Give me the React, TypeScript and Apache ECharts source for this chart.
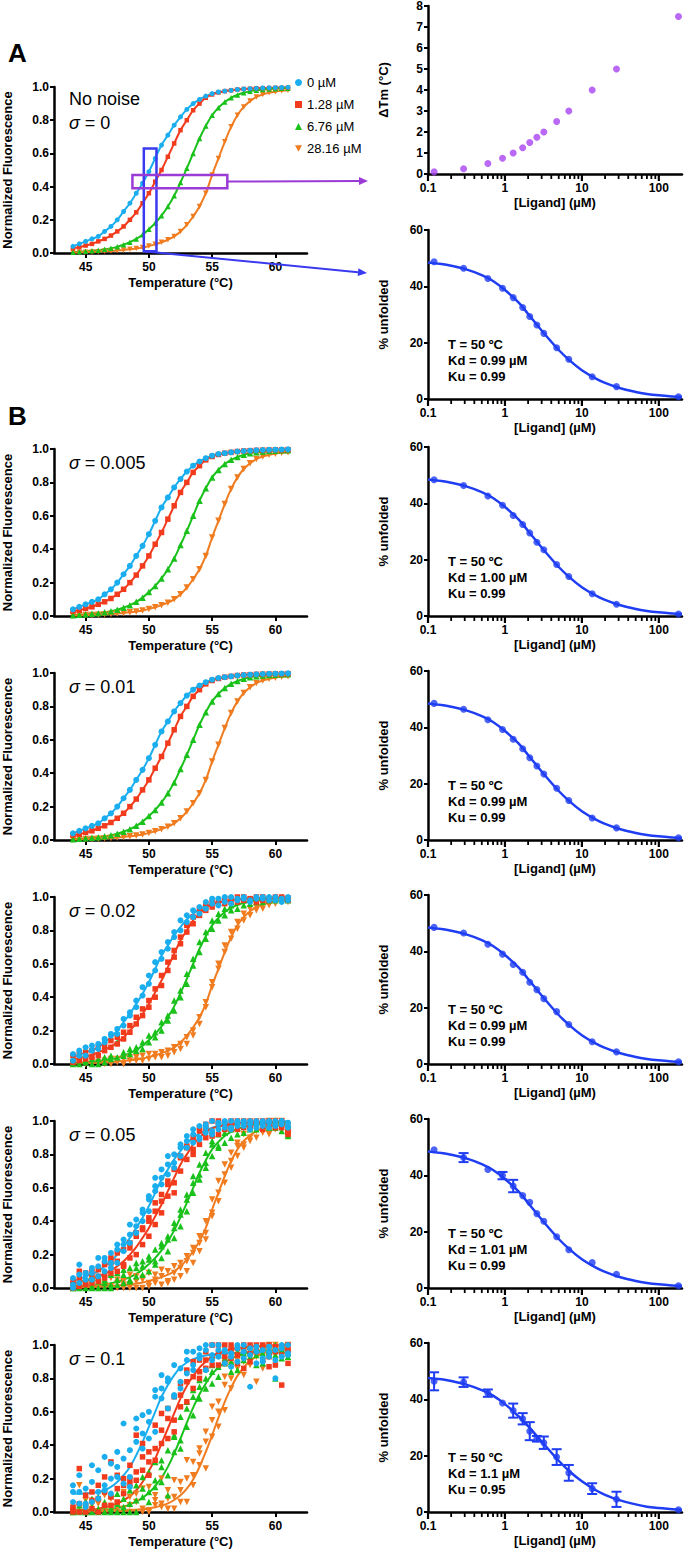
import React, { useEffect, useRef } from 'react';
import * as echarts from 'echarts';

const FONT = '"Liberation Sans", Arial, Helvetica, sans-serif';

// ================= DATA =================
const temperatures = [44, 44.5, 45, 45.5, 46, 46.5, 47, 47.5, 48, 48.5, 49, 49.5, 50, 50.5, 51, 51.5, 52, 52.5, 53, 53.5, 54, 54.5, 55, 55.5, 56, 56.5, 57, 57.5, 58, 58.5, 59, 59.5, 60, 60.5, 61];
const tempTicks = [45, 50, 55, 60];
const ligandNames = ['0 µM', '1.28 µM', '6.76 µM', '28.16 µM'];

// fitted melting curves (noise-free model)
const fit0 = [0.04, 0.055, 0.07, 0.085, 0.10, 0.13, 0.16, 0.20, 0.25, 0.30, 0.36, 0.42, 0.49, 0.57, 0.65, 0.71, 0.77, 0.82, 0.865, 0.90, 0.925, 0.945, 0.96, 0.97, 0.975, 0.98, 0.985, 0.988, 0.99, 0.992, 0.994, 0.995, 0.996, 0.997, 0.998];
const fit128 = [0.03, 0.035, 0.045, 0.055, 0.07, 0.085, 0.105, 0.13, 0.16, 0.20, 0.245, 0.30, 0.36, 0.43, 0.50, 0.58, 0.66, 0.74, 0.80, 0.86, 0.90, 0.935, 0.955, 0.967, 0.975, 0.98, 0.985, 0.988, 0.99, 0.992, 0.993, 0.994, 0.995, 0.995, 0.996];
const fit676 = [0.005, 0.007, 0.01, 0.013, 0.017, 0.022, 0.028, 0.037, 0.05, 0.065, 0.085, 0.11, 0.143, 0.18, 0.225, 0.28, 0.345, 0.425, 0.51, 0.60, 0.69, 0.765, 0.83, 0.875, 0.91, 0.935, 0.952, 0.965, 0.975, 0.98, 0.985, 0.988, 0.99, 0.992, 0.993];
const fit2816 = [0.003, 0.004, 0.005, 0.006, 0.008, 0.01, 0.012, 0.015, 0.018, 0.022, 0.027, 0.033, 0.042, 0.052, 0.065, 0.08, 0.10, 0.13, 0.17, 0.22, 0.28, 0.36, 0.47, 0.57, 0.67, 0.76, 0.83, 0.88, 0.915, 0.94, 0.955, 0.965, 0.972, 0.977, 0.98];

// fitted curves for sigma = 0.1
const fitS10_0 = [0.11, 0.11, 0.112, 0.115, 0.12, 0.13, 0.15, 0.18, 0.22, 0.27, 0.34, 0.42, 0.51, 0.60, 0.69, 0.76, 0.82, 0.865, 0.895, 0.915, 0.928, 0.937, 0.943, 0.947, 0.95, 0.952, 0.953, 0.954, 0.955, 0.955, 0.955, 0.955, 0.955, 0.955, 0.955];
const fitS10_128 = [0.008, 0.01, 0.012, 0.015, 0.02, 0.028, 0.038, 0.052, 0.07, 0.095, 0.13, 0.18, 0.245, 0.32, 0.41, 0.50, 0.59, 0.68, 0.755, 0.815, 0.865, 0.90, 0.93, 0.95, 0.965, 0.975, 0.982, 0.987, 0.99, 0.993, 0.995, 0.996, 0.997, 0.998, 0.998];
const fitS10_676 = [0.003, 0.004, 0.005, 0.007, 0.009, 0.012, 0.017, 0.024, 0.033, 0.046, 0.063, 0.085, 0.115, 0.155, 0.205, 0.27, 0.35, 0.44, 0.535, 0.625, 0.705, 0.77, 0.825, 0.865, 0.895, 0.918, 0.935, 0.948, 0.957, 0.963, 0.967, 0.969, 0.97, 0.971, 0.972];
const fitS10_2816 = [0.0, 0.0, 0.001, 0.001, 0.002, 0.003, 0.004, 0.005, 0.007, 0.009, 0.012, 0.016, 0.021, 0.028, 0.038, 0.052, 0.072, 0.10, 0.14, 0.195, 0.27, 0.36, 0.46, 0.565, 0.66, 0.745, 0.815, 0.865, 0.905, 0.932, 0.95, 0.962, 0.97, 0.975, 0.978];

// sigma = 0.02 replicates
const s02_0 = [
  [0.06, 0.05, 0.10, 0.08, 0.12, 0.15, 0.17, 0.21, 0.27, 0.31, 0.38, 0.41, 0.53, 0.56, 0.67, 0.73, 0.79, 0.86, 0.85, 0.92, 0.90, 0.97, 0.96, 0.99, 0.97, 1.00, 0.98, 0.99, 0.97, 1.00, 0.99, 1.00, 0.98, 0.99, 1.00],
  [0.02, 0.08, 0.05, 0.11, 0.09, 0.13, 0.18, 0.18, 0.23, 0.29, 0.34, 0.46, 0.48, 0.61, 0.63, 0.69, 0.76, 0.80, 0.89, 0.88, 0.94, 0.93, 0.99, 0.95, 1.00, 0.96, 0.99, 1.00, 0.98, 0.99, 1.00, 0.98, 1.00, 0.97, 0.98],
];
const s02_128 = [
  [0.05, 0.02, 0.07, 0.04, 0.10, 0.08, 0.14, 0.12, 0.19, 0.19, 0.28, 0.29, 0.38, 0.40, 0.53, 0.56, 0.68, 0.72, 0.83, 0.84, 0.93, 0.92, 0.97, 0.96, 0.99, 0.97, 1.00, 0.98, 0.99, 1.00, 0.98, 0.99, 1.00, 0.99, 0.98],
  [0.01, 0.06, 0.03, 0.08, 0.05, 0.11, 0.10, 0.16, 0.15, 0.23, 0.24, 0.33, 0.34, 0.45, 0.47, 0.61, 0.64, 0.76, 0.79, 0.88, 0.89, 0.96, 0.94, 0.98, 0.96, 0.99, 0.97, 1.00, 0.98, 0.97, 1.00, 0.98, 0.99, 1.00, 0.99],
];
const s02_676 = [
  [0.00, 0.02, 0.01, 0.03, 0.00, 0.04, 0.05, 0.13, 0.07, 0.09, 0.10, 0.13, 0.17, 0.19, 0.25, 0.26, 0.38, 0.40, 0.54, 0.59, 0.73, 0.75, 0.86, 0.86, 0.93, 0.92, 0.97, 0.95, 0.99, 0.97, 1.00, 0.98, 0.99, 1.00, 0.98],
  [0.01, 0.00, 0.02, 0.00, 0.03, 0.01, 0.03, 0.04, 0.05, 0.06, 0.08, 0.09, 0.13, 0.16, 0.20, 0.29, 0.32, 0.44, 0.48, 0.63, 0.67, 0.79, 0.81, 0.90, 0.89, 0.95, 0.93, 0.98, 0.96, 0.99, 0.97, 1.00, 0.98, 0.99, 0.99],
];
const s02_2816 = [
  [0.00, 0.01, 0.00, 0.02, 0.01, 0.00, 0.03, 0.01, 0.03, 0.04, 0.02, 0.05, 0.06, 0.04, 0.07, 0.08, 0.10, 0.12, 0.16, 0.20, 0.28, 0.37, 0.46, 0.60, 0.67, 0.79, 0.81, 0.90, 0.89, 0.94, 0.93, 0.97, 0.96, 0.98, 0.97],
  [0.01, 0.00, 0.02, 0.00, 0.00, 0.02, 0.00, 0.03, 0.00, 0.02, 0.04, 0.02, 0.03, 0.06, 0.04, 0.05, 0.07, 0.09, 0.12, 0.17, 0.24, 0.34, 0.49, 0.57, 0.71, 0.75, 0.85, 0.86, 0.93, 0.92, 0.96, 0.95, 0.98, 0.97, 0.99],
];

// sigma = 0.05 replicates
const s05_0 = [
  [0.02, 0.14, 0.08, 0.05, 0.18, 0.10, 0.15, 0.26, 0.22, 0.38, 0.41, 0.47, 0.55, 0.66, 0.62, 0.79, 0.75, 0.86, 0.91, 0.87, 0.97, 0.93, 1.00, 0.95, 0.99, 0.96, 1.00, 0.97, 1.00, 0.98, 0.99, 0.96, 1.00, 0.98, 0.97],
  [0.06, 0.03, 0.09, 0.12, 0.07, 0.18, 0.21, 0.15, 0.29, 0.27, 0.33, 0.40, 0.53, 0.58, 0.71, 0.68, 0.80, 0.79, 0.84, 0.95, 0.90, 0.98, 0.94, 0.99, 0.96, 1.00, 0.97, 0.99, 0.95, 1.00, 0.97, 1.00, 0.98, 1.00, 0.99],
  [0.00, 0.08, 0.05, 0.09, 0.13, 0.16, 0.12, 0.23, 0.26, 0.32, 0.37, 0.45, 0.46, 0.61, 0.66, 0.74, 0.72, 0.84, 0.88, 0.92, 0.89, 0.96, 0.92, 0.98, 1.00, 0.95, 0.99, 1.00, 0.98, 0.96, 1.00, 0.99, 0.97, 1.00, 0.96],
];
const s05_128 = [
  [0.00, 0.10, 0.02, 0.08, 0.04, 0.14, 0.09, 0.21, 0.13, 0.27, 0.31, 0.26, 0.42, 0.38, 0.56, 0.64, 0.57, 0.79, 0.85, 0.80, 0.96, 0.90, 1.00, 0.92, 0.98, 1.00, 0.95, 1.00, 0.97, 0.99, 0.95, 1.00, 0.98, 0.96, 0.93],
  [0.04, 0.01, 0.09, 0.03, 0.11, 0.06, 0.15, 0.10, 0.23, 0.18, 0.33, 0.36, 0.31, 0.51, 0.45, 0.62, 0.71, 0.70, 0.77, 0.90, 0.86, 0.98, 0.92, 0.99, 0.95, 0.97, 1.00, 0.96, 1.00, 0.98, 1.00, 0.97, 1.00, 0.99, 0.95],
  [0.02, 0.06, 0.03, 0.10, 0.07, 0.08, 0.18, 0.16, 0.14, 0.24, 0.20, 0.35, 0.40, 0.46, 0.52, 0.55, 0.63, 0.78, 0.84, 0.83, 0.94, 0.95, 0.91, 1.00, 0.97, 0.95, 0.99, 0.98, 0.96, 1.00, 0.99, 0.98, 0.96, 1.00, 0.92],
];
const s05_676 = [
  [0.00, 0.03, 0.00, 0.07, 0.04, 0.00, 0.08, 0.02, 0.11, 0.05, 0.15, 0.08, 0.19, 0.14, 0.27, 0.22, 0.39, 0.37, 0.56, 0.57, 0.74, 0.72, 0.88, 0.84, 0.96, 0.90, 0.99, 0.93, 1.00, 0.95, 0.97, 1.00, 0.96, 0.99, 0.92],
  [0.03, 0.00, 0.06, 0.01, 0.00, 0.05, 0.02, 0.09, 0.03, 0.12, 0.07, 0.16, 0.10, 0.23, 0.18, 0.31, 0.30, 0.47, 0.46, 0.67, 0.65, 0.81, 0.79, 0.92, 0.87, 0.97, 0.92, 1.00, 0.95, 0.99, 1.00, 0.96, 1.00, 0.94, 0.98],
  [0.00, 0.01, 0.04, 0.00, 0.06, 0.03, 0.00, 0.05, 0.08, 0.04, 0.12, 0.13, 0.17, 0.16, 0.25, 0.29, 0.36, 0.44, 0.53, 0.63, 0.68, 0.75, 0.86, 0.85, 0.93, 0.95, 0.96, 0.99, 0.97, 1.00, 0.98, 0.99, 0.97, 1.00, 0.91],
];
const s05_2816 = [
  [0.00, 0.03, 0.00, 0.05, 0.00, 0.02, 0.06, 0.00, 0.04, 0.08, 0.00, 0.05, 0.09, 0.03, 0.11, 0.04, 0.13, 0.07, 0.19, 0.15, 0.31, 0.29, 0.53, 0.52, 0.74, 0.72, 0.87, 0.84, 0.95, 0.90, 0.98, 0.93, 1.00, 0.95, 0.97],
  [0.02, 0.00, 0.04, 0.00, 0.03, 0.00, 0.01, 0.05, 0.00, 0.02, 0.07, 0.00, 0.03, 0.08, 0.02, 0.10, 0.05, 0.15, 0.10, 0.24, 0.22, 0.40, 0.43, 0.64, 0.63, 0.81, 0.79, 0.92, 0.88, 0.97, 0.93, 1.00, 0.95, 1.00, 0.93],
  [0.00, 0.01, 0.00, 0.02, 0.05, 0.01, 0.00, 0.03, 0.02, 0.00, 0.04, 0.06, 0.01, 0.05, 0.07, 0.03, 0.09, 0.12, 0.16, 0.21, 0.27, 0.33, 0.45, 0.57, 0.68, 0.76, 0.85, 0.86, 0.90, 0.94, 0.96, 0.92, 0.98, 0.97, 0.91],
];

// sigma = 0.1 replicates
const s10_0 = [
  [0.16, 0.22, 0.05, 0.28, 0.12, 0.33, 0.20, 0.36, 0.53, 0.21, 0.56, 0.47, 0.60, 0.69, 0.82, 0.62, 0.69, 0.86, 0.96, 0.85, 0.92, 1.00, 0.94, 0.97, 0.89, 0.93, 0.98, 0.96, 0.75, 0.99, 0.92, 0.96, 0.91, 0.98, 0.95],
  [0.12, 0.05, 0.14, 0.06, 0.25, 0.16, 0.11, 0.27, 0.17, 0.37, 0.50, 0.38, 0.54, 0.48, 0.74, 0.80, 0.70, 0.78, 0.83, 0.96, 0.98, 0.85, 1.00, 0.93, 0.97, 0.95, 0.90, 1.00, 0.94, 0.89, 0.97, 0.93, 0.80, 1.00, 0.94],
  [0.06, 0.12, 0.03, 0.18, 0.08, 0.13, 0.29, 0.21, 0.32, 0.15, 0.42, 0.58, 0.44, 0.73, 0.68, 0.78, 0.88, 0.74, 0.91, 0.88, 0.94, 0.97, 0.91, 1.00, 0.96, 0.87, 1.00, 0.92, 0.98, 0.96, 0.90, 0.99, 0.97, 0.93, 1.00],
];
const s10_128 = [
  [0.03, 0.26, 0.00, 0.12, 0.08, 0.21, 0.30, 0.14, 0.20, 0.28, 0.46, 0.25, 0.36, 0.52, 0.41, 0.62, 0.55, 0.70, 0.85, 0.74, 0.80, 0.91, 0.88, 0.95, 1.00, 0.92, 0.98, 0.86, 1.00, 0.97, 0.91, 1.00, 0.88, 0.99, 0.89],
  [0.00, 0.05, 0.10, 0.02, 0.16, 0.04, 0.09, 0.22, 0.11, 0.17, 0.24, 0.33, 0.30, 0.38, 0.59, 0.44, 0.69, 0.63, 0.78, 0.90, 0.84, 0.96, 1.00, 0.88, 0.93, 1.00, 0.89, 0.97, 0.95, 1.00, 0.98, 0.87, 0.96, 0.94, 1.00],
  [0.01, 0.00, 0.04, 0.07, 0.00, 0.12, 0.04, 0.06, 0.16, 0.20, 0.19, 0.41, 0.22, 0.31, 0.49, 0.56, 0.48, 0.77, 0.66, 0.81, 0.91, 0.86, 0.93, 1.00, 0.89, 0.97, 0.94, 1.00, 0.90, 0.96, 1.00, 0.93, 0.99, 0.76, 0.97],
];
const s10_676 = [
  [0.00, 0.04, 0.00, 0.08, 0.02, 0.00, 0.10, 0.05, 0.00, 0.13, 0.07, 0.21, 0.12, 0.30, 0.18, 0.37, 0.46, 0.43, 0.66, 0.58, 0.79, 0.74, 0.88, 0.81, 0.94, 0.84, 0.96, 0.91, 0.99, 0.88, 0.95, 1.00, 0.80, 0.97, 0.93],
  [0.02, 0.00, 0.06, 0.00, 0.09, 0.04, 0.00, 0.11, 0.03, 0.00, 0.16, 0.09, 0.24, 0.15, 0.31, 0.22, 0.36, 0.57, 0.51, 0.73, 0.68, 0.86, 0.77, 0.94, 0.89, 0.97, 0.85, 1.00, 0.93, 0.98, 0.89, 0.96, 1.00, 0.92, 0.98],
  [0.00, 0.01, 0.00, 0.03, 0.00, 0.06, 0.02, 0.00, 0.08, 0.05, 0.00, 0.14, 0.06, 0.19, 0.27, 0.10, 0.45, 0.38, 0.62, 0.69, 0.75, 0.80, 0.84, 0.87, 0.92, 0.90, 0.99, 0.95, 0.96, 0.94, 1.00, 0.97, 0.94, 1.00, 0.95],
];
const s10_2816 = [
  [0.00, 0.16, 0.00, 0.04, 0.00, 0.10, 0.00, 0.03, 0.12, 0.00, 0.06, 0.00, 0.15, 0.04, 0.20, 0.08, 0.02, 0.18, 0.06, 0.22, 0.38, 0.26, 0.63, 0.51, 0.81, 0.74, 0.86, 0.90, 0.96, 0.78, 0.99, 0.93, 1.00, 0.97, 0.99],
  [0.02, 0.00, 0.07, 0.00, 0.05, 0.00, 0.08, 0.00, 0.02, 0.09, 0.00, 0.14, 0.01, 0.10, 0.03, 0.13, 0.19, 0.06, 0.31, 0.16, 0.28, 0.48, 0.45, 0.66, 0.61, 0.88, 0.94, 0.82, 0.92, 0.98, 0.86, 1.00, 0.94, 0.99, 0.96],
  [0.00, 0.03, 0.00, 0.00, 0.06, 0.02, 0.00, 0.05, 0.00, 0.04, 0.11, 0.02, 0.00, 0.07, 0.05, 0.02, 0.09, 0.13, 0.20, 0.30, 0.35, 0.42, 0.55, 0.60, 0.76, 0.80, 0.91, 0.95, 0.88, 0.93, 0.97, 0.96, 0.98, 0.95, 1.00],
];

// right column
const ligandConc = [0.12, 0.29, 0.6, 0.93, 1.28, 1.7, 2.1, 2.6, 3.2, 4.7, 6.76, 13.6, 28.16, 180];
const deltaTm = [0.1, 0.25, 0.5, 0.75, 1.0, 1.25, 1.5, 1.75, 2.0, 2.5, 3.0, 4.0, 5.0, 7.5];
const unfoldedNoNoise = [48.7, 46.4, 42.8, 39.3, 36.0, 32.5, 29.3, 26.3, 23.3, 18.2, 14.1, 7.9, 4.4, 0.8];
const unfoldedS005 = [48.4, 46.3, 42.6, 39.3, 35.7, 32.5, 29.5, 26.2, 23.5, 18.3, 14.0, 7.9, 4.2, 0.7];
const unfoldedS01 = [48.5, 46.4, 42.7, 39.2, 35.8, 32.4, 29.2, 26.3, 23.4, 18.4, 14.0, 7.8, 4.3, 0.8];
const unfoldedS02 = [48.5, 46.5, 42.5, 39.0, 35.3, 32.6, 29.0, 26.4, 23.2, 18.6, 14.0, 7.9, 4.3, 0.8];
const unfoldedS05 = [49.1, 46.3, 42.1, 39.9, 36.2, 32.8, 30.4, 26.4, 23.7, 18.2, 13.6, 9.0, 4.9, 0.8];
const errS05 = [0, 1.6, 0, 1.3, 2.2, 0, 0, 0, 0, 0, 0, 0, 0, 0];
const unfoldedS10 = [46.4, 46.1, 42.2, 38.7, 36.0, 33.1, 28.7, 26.0, 24.6, 19.5, 13.9, 8.3, 4.5, 0.8];
const errS10 = [3.2, 1.7, 1.3, 0, 2.5, 2.0, 3.2, 1.0, 2.2, 2.8, 2.8, 1.9, 2.7, 0];
const fitConc = [0.1, 0.15, 0.2, 0.3, 0.5, 0.7, 1, 1.5, 2, 3, 5, 7, 10, 15, 20, 30, 50, 70, 100, 150, 200];
const fitUnfolded = [48.5, 47.9, 47.3, 46.2, 44.0, 41.9, 38.7, 34.3, 30.2, 24.3, 17.4, 13.6, 10.2, 7.3, 5.7, 4.0, 2.5, 1.8, 1.3, 0.9, 0.7];
const fitUnfoldedS10 = [47.6, 47.1, 46.5, 45.4, 43.3, 41.3, 38.3, 34.0, 30.5, 25.0, 18.2, 14.3, 10.9, 7.8, 6.1, 4.3, 2.7, 1.9, 1.4, 0.95, 0.7];
const logMajorTicks = [0.1, 1, 10, 100];
const logMinorTicks = [0.2, 0.3, 0.4, 0.5, 0.6, 0.7, 0.8, 0.9, 2, 3, 4, 5, 6, 7, 8, 9, 20, 30, 40, 50, 60, 70, 80, 90];

const sigmaLabels = ['0.005', '0.01', '0.02', '0.05', '0.1'];
const kdLabels = ['1.00', '0.99', '0.99', '1.01', '1.1'];
const kuLabels = ['0.99', '0.99', '0.99', '0.99', '0.95'];

// boxes drawn on panel A (T range, fluorescence range)
const purpleBox = [48.7, 0.39, 56.2, 0.47];
const blueBox = [49.6, 0.01, 50.6, 0.63];

// ================= STYLE / LAYOUT =================
const ligandColors = ['#1AAEEF', '#F23B1D', '#19C11A', '#F07C1F'];
const ligandSymbols = ['circle', 'rect', 'triangle', 'path://M0,0 L10,0 L5,9 Z'];
const DARK_BLUE = '#1F3DF2';
const PURPLE = '#A744F0';
const BOX_PURPLE = '#9B3BD6';
const BOX_BLUE = '#3A3AF0';

const LEFT_X = 52, LEFT_W = 255;
const RIGHT_X = 428, RIGHT_W = 256, RIGHT_H = 169;
const B_TOPS_LEFT = [449, 673, 897, 1121, 1345];
const B_TOPS_RIGHT = [447, 671, 895, 1119, 1343];

const labelStyle = { color: '#000', fontSize: 12, fontWeight: 'bold', fontFamily: FONT };
const nameStyle = { color: '#000', fontSize: 13, fontWeight: 'bold', fontFamily: FONT };
const axisLineStyle = { color: '#000', width: 2.5 };

function logFmt(v: number) {
  const l = Math.log10(v);
  if (Math.abs(l - Math.round(l)) > 1e-6) return '';
  return v < 1 ? '0.1' : String(Math.round(v));
}

function buildOption() {
  const grid: any[] = [];
  const xAxis: any[] = [];
  const yAxis: any[] = [];
  const series: any[] = [];
  const graphic: any[] = [];

  function addLeftPanel(top: number, height: number, curves: number[][], points: number[][][], sizes: number[]) {
    const g = grid.length;
    grid.push({ left: LEFT_X, top, width: LEFT_W, height });
    xAxis.push({
      gridIndex: g, type: 'value', min: 42.5, max: 62.5,
      axisLine: { show: true, onZero: false, lineStyle: axisLineStyle },
      axisTick: { show: true, customValues: tempTicks, length: 5, lineStyle: { color: '#000', width: 2 } },
      axisLabel: { show: true, customValues: tempTicks, margin: 8, ...labelStyle, formatter: (v: number) => (v % 5 === 0 ? String(v) : '') },
      splitLine: { show: false },
      name: 'Temperature (°C)', nameLocation: 'middle', nameGap: 23, nameTextStyle: nameStyle,
    });
    yAxis.push({
      gridIndex: g, type: 'value', min: 0, max: 1, interval: 0.2,
      axisLine: { show: true, onZero: false, lineStyle: axisLineStyle },
      axisTick: { show: true, length: 4, lineStyle: { color: '#000', width: 2 } },
      axisLabel: { show: true, margin: 5, ...labelStyle, formatter: (v: number) => v.toFixed(1) },
      splitLine: { show: false },
      name: 'Normalized Fluorescence', nameLocation: 'middle', nameGap: 40, nameTextStyle: nameStyle,
    });
    curves.forEach((c, i) => {
      series.push({
        type: 'line', xAxisIndex: g, yAxisIndex: g, silent: true,
        data: temperatures.map((t, j) => [t, c[j]]),
        smooth: 0.4, showSymbol: false, symbol: 'none',
        lineStyle: { color: ligandColors[i], width: 2 }, itemStyle: { color: ligandColors[i] }, z: 2,
      });
    });
    [3, 2, 1, 0].forEach((i) => {
      const data: number[][] = [];
      points[i].forEach((rep) => rep.forEach((v, j) => data.push([temperatures[j], v])));
      series.push({
        type: 'scatter', name: ligandNames[i], xAxisIndex: g, yAxisIndex: g, silent: true, clip: false,
        data, symbol: ligandSymbols[i], symbolSize: sizes[i],
        itemStyle: { color: ligandColors[i], opacity: 1 }, z: 3,
      });
    });
    return g;
  }

  const tickRender = (_p: any, api: any) => {
    const p = api.coord([api.value(0), api.value(1)]);
    const major = api.value(2) === 1;
    return {
      type: 'line', z2: 50,
      shape: { x1: p[0], y1: p[1], x2: p[0], y2: p[1] + (major ? 7 : 5) },
      style: { stroke: '#000', lineWidth: major ? 2.2 : 1.8 },
    };
  };

  function addRightPanel(top: number, yMax: number, yInterval: number, yName: string) {
    const g = grid.length;
    grid.push({ left: RIGHT_X, top, width: RIGHT_W, height: RIGHT_H });
    xAxis.push({
      gridIndex: g, type: 'log', logBase: 10, min: 0.1, max: 200,
      axisLine: { show: true, onZero: false, lineStyle: axisLineStyle },
      axisTick: { show: false }, minorTick: { show: false }, minorSplitLine: { show: false },
      axisLabel: { show: true, margin: 8, ...labelStyle, formatter: logFmt },
      splitLine: { show: false },
      name: '[Ligand] (µM)', nameLocation: 'middle', nameGap: 22, nameTextStyle: nameStyle,
    });
    yAxis.push({
      gridIndex: g, type: 'value', min: 0, max: yMax, interval: yInterval,
      axisLine: { show: true, onZero: false, lineStyle: axisLineStyle },
      axisTick: { show: true, length: 4, lineStyle: { color: '#000', width: 2 } },
      axisLabel: { show: true, margin: 5, ...labelStyle },
      splitLine: { show: false },
      name: yName, nameLocation: 'middle', nameGap: 38, nameTextStyle: nameStyle,
    });
    series.push({
      type: 'custom', xAxisIndex: g, yAxisIndex: g, silent: true, z: 10, clip: false,
      data: [...logMajorTicks.map((v) => [v, 0, 1]), ...logMinorTicks.map((v) => [v, 0, 0])],
      renderItem: tickRender,
    });
    return g;
  }

  function addUnfolded(g: number, fit: number[], vals: number[], errs?: number[]) {
    series.push({
      type: 'line', xAxisIndex: g, yAxisIndex: g, silent: true,
      data: fitConc.map((c, i) => [c, fit[i]]), smooth: 0.4, showSymbol: false, symbol: 'none',
      lineStyle: { color: DARK_BLUE, width: 2.5 }, itemStyle: { color: DARK_BLUE }, z: 2,
    });
    if (errs) {
      series.push({
        type: 'custom', xAxisIndex: g, yAxisIndex: g, silent: true, z: 3,
        data: ligandConc.map((c, i) => [c, vals[i] - errs[i], vals[i] + errs[i]]).filter((_d, i) => errs[i] > 0),
        renderItem: (_p: any, api: any) => {
          const lo = api.coord([api.value(0), api.value(1)]);
          const hi = api.coord([api.value(0), api.value(2)]);
          const w = 5;
          const st = { stroke: DARK_BLUE, lineWidth: 2 };
          return {
            type: 'group', children: [
              { type: 'line', shape: { x1: lo[0], y1: lo[1], x2: hi[0], y2: hi[1] }, style: st },
              { type: 'line', shape: { x1: lo[0] - w, y1: lo[1], x2: lo[0] + w, y2: lo[1] }, style: st },
              { type: 'line', shape: { x1: hi[0] - w, y1: hi[1], x2: hi[0] + w, y2: hi[1] }, style: st },
            ],
          };
        },
      });
    }
    series.push({
      type: 'scatter', xAxisIndex: g, yAxisIndex: g, silent: true, clip: false,
      data: ligandConc.map((c, i) => [c, vals[i]]), symbol: 'circle', symbolSize: 7,
      itemStyle: { color: DARK_BLUE }, z: 4,
    });
  }

  // ---- Panel A ----
  const gA = addLeftPanel(87, 166, [fit0, fit128, fit676, fit2816], [[fit0], [fit128], [fit676], [fit2816]], [5, 4.5, 5.5, 5.5]);
  series.push({
    type: 'line', xAxisIndex: gA, yAxisIndex: gA, data: [], silent: true,
    markArea: {
      silent: true, z: 20,
      itemStyle: { color: 'rgba(0,0,0,0)', borderColor: BOX_BLUE, borderWidth: 2.5 },
      data: [[{ coord: [blueBox[0], blueBox[1]] }, { coord: [blueBox[2], blueBox[3]] }]],
    },
  });
  series.push({
    type: 'line', xAxisIndex: gA, yAxisIndex: gA, data: [], silent: true,
    markArea: {
      silent: true, z: 21,
      itemStyle: { color: 'rgba(0,0,0,0)', borderColor: BOX_PURPLE, borderWidth: 2.5 },
      data: [[{ coord: [purpleBox[0], purpleBox[1]] }, { coord: [purpleBox[2], purpleBox[3]] }]],
    },
  });

  // ΔTm panel
  const gT = addRightPanel(5, 8, 1, 'ΔTm (°C)');
  series.push({
    type: 'scatter', xAxisIndex: gT, yAxisIndex: gT, silent: true, clip: false,
    data: ligandConc.map((c, i) => [c, deltaTm[i]]), symbol: 'circle', symbolSize: 7,
    itemStyle: { color: PURPLE }, z: 4,
  });
  // % unfolded panel A
  const gU = addRightPanel(230, 60, 20, '% unfolded');
  addUnfolded(gU, fitUnfolded, unfoldedNoNoise);

  // ---- Panel B rows ----
  const lowSizes = [6, 5.5, 6.5, 6.5];
  const bLeftData = [
    { curves: [fit0, fit128, fit676, fit2816], pts: [[fit0], [fit128], [fit676], [fit2816]] },
    { curves: [fit0, fit128, fit676, fit2816], pts: [[fit0], [fit128], [fit676], [fit2816]] },
    { curves: [fit0, fit128, fit676, fit2816], pts: [s02_0, s02_128, s02_676, s02_2816] },
    { curves: [fit0, fit128, fit676, fit2816], pts: [s05_0, s05_128, s05_676, s05_2816] },
    { curves: [fitS10_0, fitS10_128, fitS10_676, fitS10_2816], pts: [s10_0, s10_128, s10_676, s10_2816] },
  ];
  const bRightData: { fit: number[]; vals: number[]; errs?: number[] }[] = [
    { fit: fitUnfolded, vals: unfoldedS005 },
    { fit: fitUnfolded, vals: unfoldedS01 },
    { fit: fitUnfolded, vals: unfoldedS02 },
    { fit: fitUnfolded, vals: unfoldedS05, errs: errS05 },
    { fit: fitUnfoldedS10, vals: unfoldedS10, errs: errS10 },
  ];
  bLeftData.forEach((d, k) => {
    addLeftPanel(B_TOPS_LEFT[k], 167, d.curves, d.pts, lowSizes);
    const g = addRightPanel(B_TOPS_RIGHT[k], 60, 20, '% unfolded');
    addUnfolded(g, bRightData[k].fit, bRightData[k].vals, bRightData[k].errs);
  });

  // ---- Text annotations ----
  const sigmaRich = { i: { fontStyle: 'italic', fontSize: 18, fontFamily: FONT, fill: '#000', lineHeight: 24 } };
  graphic.push({ id: 'lblA', type: 'text', x: 8, y: 53, z: 100, style: { text: 'A', fontSize: 26, fontWeight: 'bold', fontFamily: FONT, fill: '#000', verticalAlign: 'middle' } });
  graphic.push({ id: 'lblB', type: 'text', x: 8, y: 416, z: 100, style: { text: 'B', fontSize: 26, fontWeight: 'bold', fontFamily: FONT, fill: '#000', verticalAlign: 'middle' } });
  graphic.push({
    id: 'noNoise', type: 'text', x: 69, y: 87, z: 100,
    style: { text: 'No noise\n{i|σ} = 0', fontSize: 18, lineHeight: 24, fontFamily: FONT, fill: '#000', verticalAlign: 'top', rich: sigmaRich },
  });
  graphic.push({
    id: 'annA', type: 'text', x: 448, y: 230 + 106, z: 100,
    style: { text: 'T = 50 ºC\nKd = 0.99 µM\nKu = 0.99', fontSize: 13, fontWeight: 'bold', lineHeight: 16, fontFamily: FONT, fill: '#000', verticalAlign: 'top' },
  });
  sigmaLabels.forEach((s, k) => {
    graphic.push({
      id: 'sig' + k, type: 'text', x: 69, y: B_TOPS_LEFT[k] + 14, z: 100,
      style: { text: '{i|σ} = ' + s, fontSize: 18, lineHeight: 24, fontFamily: FONT, fill: '#000', verticalAlign: 'middle', rich: sigmaRich },
    });
    graphic.push({
      id: 'ann' + k, type: 'text', x: 448, y: B_TOPS_RIGHT[k] + 106, z: 100,
      style: { text: 'T = 50 ºC\nKd = ' + kdLabels[k] + ' µM\nKu = ' + kuLabels[k], fontSize: 13, fontWeight: 'bold', lineHeight: 16, fontFamily: FONT, fill: '#000', verticalAlign: 'top' },
    });
  });

  return {
    animation: false,
    backgroundColor: '#ffffff',
    textStyle: { fontFamily: FONT },
    legend: {
      data: ligandNames.map((n, i) => ({ name: n, icon: ligandSymbols[i] })),
      orient: 'vertical', left: 295, top: 76, padding: 0,
      itemWidth: 7, itemHeight: 7, itemGap: 9, selectedMode: false,
      textStyle: { fontSize: 13, fontFamily: FONT, color: '#000' },
    },
    grid, xAxis, yAxis, series, graphic,
  };
}

function arrow(id: string, from: number[], to: number[], color: string) {
  const dx = to[0] - from[0], dy = to[1] - from[1];
  const len = Math.hypot(dx, dy) || 1;
  const ux = dx / len, uy = dy / len;
  const hl = 9, hw = 4;
  const bx = to[0] - ux * hl, by = to[1] - uy * hl;
  return [
    { id: id + '-l', type: 'line', z: 100, shape: { x1: from[0], y1: from[1], x2: bx, y2: by }, style: { stroke: color, lineWidth: 2 } },
    { id: id + '-h', type: 'polygon', z: 100, shape: { points: [[to[0], to[1]], [bx - uy * hw, by + ux * hw], [bx + uy * hw, by - ux * hw]] }, style: { fill: color } },
  ];
}

export default function App() {
  const ref = useRef<HTMLDivElement>(null);
  useEffect(() => {
    if (!ref.current) return;
    const chart = echarts.init(ref.current, null, { renderer: 'svg' });
    chart.setOption(buildOption() as any);
    const pStart = chart.convertToPixel({ gridIndex: 0 }, [purpleBox[2], (purpleBox[1] + purpleBox[3]) / 2]) as number[];
    const bStart = chart.convertToPixel({ gridIndex: 0 }, [blueBox[0], blueBox[1]]) as number[];
    chart.setOption({
      graphic: [
        ...arrow('arrP', pStart, [368, 181], BOX_PURPLE),
        ...arrow('arrB', bStart, [367, 273], BOX_BLUE),
      ],
    } as any);
    return () => chart.dispose();
  }, []);
  return <div ref={ref} style={{ position: 'absolute', left: 0, top: 0, width: 685, height: 1549, background: '#fff' }} />;
}
